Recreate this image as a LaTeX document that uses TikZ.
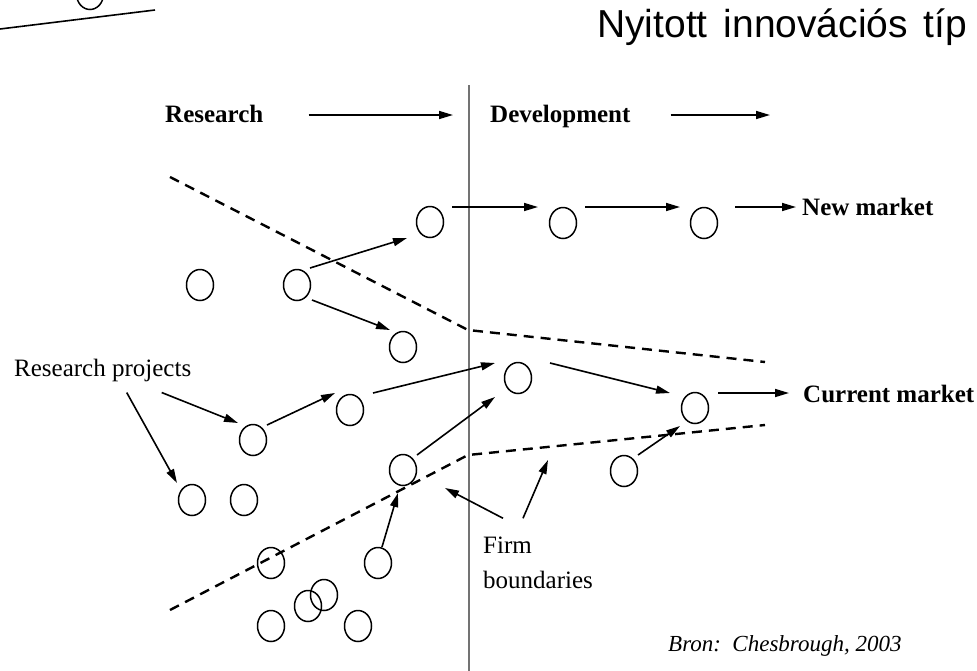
\documentclass[tikz,border=0pt]{standalone}
\usepackage{fontspec}
\setmainfont{Liberation Serif}
\newfontfamily\slidefont{Liberation Sans}
\usetikzlibrary{arrows.meta,shapes.geometric,calc}

\begin{document}
\begin{tikzpicture}[x=1pt,y=1pt,yscale=-1,
  proj/.style={draw,ellipse,line width=1.5pt,minimum width=27pt,minimum height=31pt,inner sep=0pt},
  flow/.style={line width=1.6pt,-{Triangle[length=14pt,width=8pt]}},
  bound/.style={line width=2.4pt,dash pattern=on 10pt off 7pt},
  divider/.style={line width=2.2pt,draw=black!55},
  lbl/.style={font=\fontsize{25}{35}\selectfont,inner sep=0pt,anchor=base west},
  hdr/.style={lbl,font=\fontsize{25}{35}\selectfont\bfseries}]
\useasboundingbox (0,0) rectangle (977,670);
\clip (0,0) rectangle (977,670);

% slide leftovers
\node[proj] (top) at (90,-6) {};
\draw[line width=1.6pt] (0,29) -- (155,10);
\node[anchor=base west,inner sep=0pt,font=\slidefont\fontsize{39}{40}\selectfont] (title) at (597,37) {\spaceskip=16pt\relax Nyitott innovációs típ};

% firm wall
\coordinate (wtop) at (469,85);
\coordinate (wbot) at (469,672);
\draw[divider] (wtop) -- (wbot);

% firm boundaries
\coordinate (u1) at (170,177);
\coordinate (u2) at (468,330);
\coordinate (u3) at (765,362);
\coordinate (l1) at (170,610);
\coordinate (l2) at (468,455);
\coordinate (l3) at (765,425);
\draw[bound] (u1) -- (u2) -- (u3);
\draw[bound] (l1) -- (l2) -- (l3);

% Text Node
\node[hdr] (res) at (165,122) {Research};
\node[hdr] (dev) at (490,122) {Development};
\node[hdr] (newm) at (802,215) {New market};
\node[hdr] (curm) at (803,402) {Current market};
\node[lbl] (rp) at (14,376) {Research projects};
\node[lbl,align=left] (firm) at (483,588) {Firm\\boundaries};
\node[lbl,font=\fontsize{23}{30}\selectfont\itshape] (bron) at (668,651) {Bron:\ \ Chesbrough, 2003};

% projects
\node[proj] (n1) at (430,222) {};
\node[proj] (n2) at (563,223) {};
\node[proj] (n3) at (704,223) {};
\node[proj] (a) at (200,285) {};
\node[proj] (b) at (297,285) {};
\node[proj] (c) at (403,347) {};
\node[proj] (d) at (518,378) {};
\node[proj] (e) at (350,410) {};
\node[proj] (f) at (253,440) {};
\node[proj] (g) at (695,408) {};
\node[proj] (h) at (403,470) {};
\node[proj] (i) at (624,471) {};
\node[proj] (j) at (192,500) {};
\node[proj] (k) at (244,500) {};
\node[proj] (l) at (271,563) {};
\node[proj] (m) at (378,563) {};
\node[proj] (n) at (324,595) {};
\node[proj] (o) at (308,606) {};
\node[proj] (p) at (271,626) {};
\node[proj] (q) at (358,626) {};

% header arrows
\coordinate (devend) at (770,115);
\draw[flow] ($(res.east |- devend)+(45,0)$) -- ($(dev.west |- devend)+(-37,0)$);
\draw[flow] ($(dev.east |- devend)+(40,0)$) -- (devend);

% project flows
\draw[flow] ($(n1)+(22,-15)$) -- ($(n2)+(-25,-16)$);
\draw[flow] ($(n2)+(22,-16)$) -- ($(n3)+(-24,-16)$);
\draw[flow] ($(n3)+(31,-16)$) -- ($(newm.base west)+(-6,-8)$);
\draw[flow] ($(b)+(13,-17)$) -- ($(n1)+(-23,16)$);
\draw[flow] ($(b)+(15,15)$) -- ($(c)+(-13,-17)$);
\draw[flow] ($(rp.south)+(59,11)$) -- ($(f)+(-15,-17)$);
\draw[flow] ($(rp.south)+(24,11)$) -- ($(j)+(-15,-17)$);
\draw[flow] ($(f)+(14,-15)$) -- ($(e)+(-15,-17)$);
\draw[flow] ($(e)+(23,-17)$) -- ($(d)+(-23,-15)$);
\draw[flow] ($(h)+(14,-15)$) -- ($(d)+(-23,19)$);
\draw[flow] ($(d)+(32,-15)$) -- ($(g)+(-25,-15)$);
\draw[flow] ($(g)+(23,-15)$) -- ($(curm.base west)+(-14,-9)$);
\draw[flow] ($(i)+(14,-16)$) -- ($(g)+(-15,18)$);
\draw[flow] ($(m)+(4,-16)$) -- ($(h)+(-5,23)$);

% pointers to the boundaries
\coordinate (bl) at (445,488);
\coordinate (br) at (548,460);
\draw[flow] ($(firm.north west)+(20,-18)$) -- (bl);
\draw[flow] ($(firm.north west)+(40,-18)$) -- (br);

\end{tikzpicture}
\end{document}
